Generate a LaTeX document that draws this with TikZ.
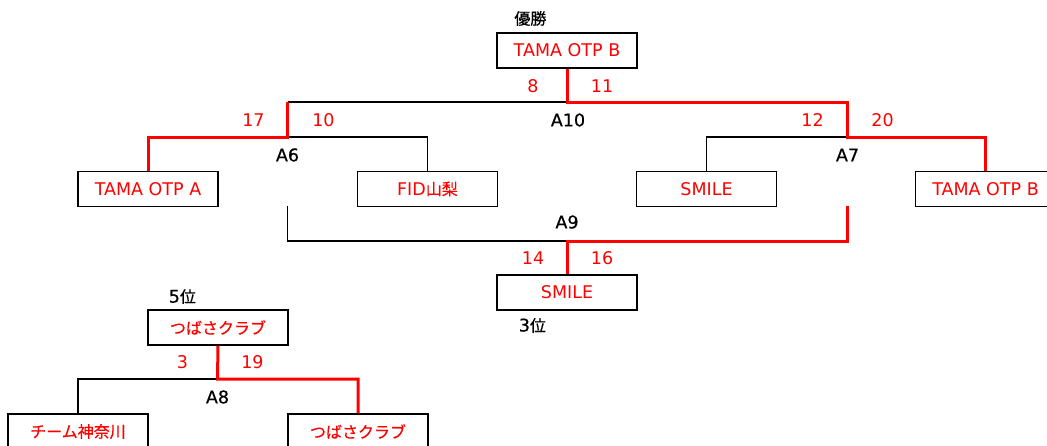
\documentclass[tikz,border=0pt]{standalone}
\usepackage{fontspec}
\setmainfont{DejaVu Sans}
\newfontfamily\jpfont[FakeBold=0.5]{Noto Sans CJK JP}
\newfontfamily\labfont[FakeBold=0.6]{DejaVu Sans}
\newcommand{\jp}[1]{{\jpfont\fontsize{16}{18}\selectfont #1}}
\usepackage{xcolor}
\usepackage{tikz}
\usetikzlibrary{positioning}

\begin{document}
\begin{tikzpicture}[x=1pt, y=-1pt,
		every node/.style={font=\fontsize{17.5}{20}\selectfont},
		team/.style={draw, line width=1.2pt, text=red, minimum width=140pt, minimum height=35pt, inner sep=0pt},
		score/.style={text=red},
		match/.style={text=black, font=\fontsize{17.5}{20}\selectfont\labfont},
		lose/.style={line width=1.2pt},
		win/.style={line width=3pt, red},
	]
		\useasboundingbox (0,0) rectangle (1047,445);
		% final and 3rd place
		\node[team] (champ) at (567,50.5) {TAMA OTP B};
		\node[match, above=3pt of champ.north west, xshift=34pt] (champT) {\jp{優勝}};
		\node[team] (tamaA) at (148,189) {TAMA OTP A};
		\node[team] (fid) at (427.5,189) {FID\jp{山梨}};
		\node[team] (smile) at (706.5,189) {SMILE};
		\node[team] (tamaB) at (985.5,189) {TAMA OTP B};
		\node[team] (third) at (567,292.5) {SMILE};
		\node[match, below=4pt of third.south west, xshift=36pt] (thirdT) {3\jp{位}};
		% 5th place
		\node[team] (fifth) at (218,327.5) {\jp{つばさクラブ}};
		\node[match, above=2pt of fifth.north west, xshift=35pt] (fifthT) {5\jp{位}};
		\node[team] (kanagawa) at (78,431.5) {\jp{チーム神奈川}};
		\node[team] (tsubasa) at (358,431.5) {\jp{つばさクラブ}};
		% junctions
		\coordinate (A10) at (567,102);
		\coordinate (A6) at (287.5,137);
		\coordinate (A7) at (847.5,137);
		\coordinate (A9) at (567,241);
		\coordinate (A8) at (217.5,379);
		\coordinate (q6) at (287.5,206);
		\coordinate (q7) at (847.5,206);
		% losing branches
		\draw[lose] (A6 |- A10) -- (A10);
		\draw[lose] (fid.north) |- (A6);
		\draw[lose] (smile.north) |- (A7);
		\draw[lose] (q6) |- (A9);
		\draw[lose] (kanagawa.north) |- (A8);
		% winning branches
		\draw[win] (tamaA.north) |- (A6) -- (A6 |- A10);
		\draw[win] (tamaB.north) |- (A7) |- (A10) -- (champ.south);
		\draw[win] (q7) |- (A9) -- (third.north);
		\draw[win] (tsubasa.north) |- (A8) -- (fifth.south);
		% match names
		\node[match] (A10l) at ([shift={(1,18)}]A10) {A10};
		\node[match] (A6l) at ([shift={(0,18)}]A6) {A6};
		\node[match] (A7l) at ([shift={(0,18)}]A7) {A7};
		\node[match] (A9l) at ([shift={(0,-19)}]A9) {A9};
		\node[match] (A8l) at ([shift={(0,18)}]A8) {A8};
		% scores
		\node[score] (s10a) at ([shift={(-34,-16)}]A10) {8};
		\node[score] (s10b) at ([shift={(35,-16)}]A10) {11};
		\node[score] (s6a) at ([shift={(-34,-17)}]A6) {17};
		\node[score] (s6b) at ([shift={(36,-17)}]A6) {10};
		\node[score] (s7a) at ([shift={(-35,-17)}]A7) {12};
		\node[score] (s7b) at ([shift={(35,-17)}]A7) {20};
		\node[score] (s9a) at ([shift={(-34,17)}]A9) {14};
		\node[score] (s9b) at ([shift={(35,17)}]A9) {16};
		\node[score] (s8a) at ([shift={(-35,-17)}]A8) {3};
		\node[score] (s8b) at ([shift={(35,-17)}]A8) {19};
	\end{tikzpicture}
\end{document}
